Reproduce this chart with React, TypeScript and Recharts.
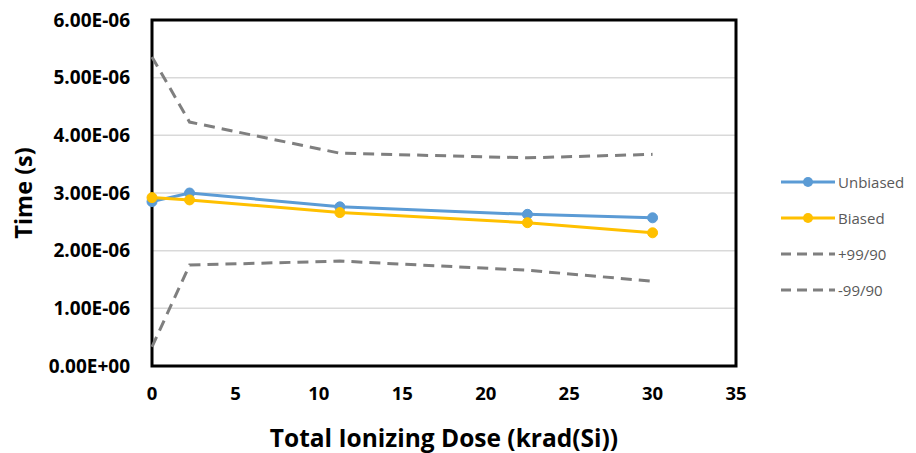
import React from 'react';
import {
  LineChart,
  Line,
  XAxis,
  YAxis,
  CartesianGrid,
  Legend,
  ReferenceArea,
} from 'recharts';

const dose = [0, 2.25, 11.26, 22.5, 30];
const unbiased = [2.85e-6, 3.0e-6, 2.76e-6, 2.63e-6, 2.57e-6];
const biased = [2.92e-6, 2.88e-6, 2.66e-6, 2.485e-6, 2.31e-6];
const upper = [5.36e-6, 4.23e-6, 3.69e-6, 3.61e-6, 3.67e-6];
const lower = [0.33e-6, 1.75e-6, 1.82e-6, 1.66e-6, 1.47e-6];

const xTicks = [0, 5, 10, 15, 20, 25, 30, 35];
const yTicks = [0, 1e-6, 2e-6, 3e-6, 4e-6, 5e-6, 6e-6];

const FONT = '"Open Sans", Lato, sans-serif';

const chartData = dose.map((d, i) => ({
  dose: d,
  unbiased: unbiased[i],
  biased: biased[i],
  upper: upper[i],
  lower: lower[i],
}));

const legendItems = [
  { name: 'Unbiased', color: '#5B9BD5', dashed: false },
  { name: 'Biased', color: '#FFC000', dashed: false },
  { name: '+99/90', color: '#7F7F7F', dashed: true },
  { name: '-99/90', color: '#7F7F7F', dashed: true },
];

const formatSci = (v: number) => {
  if (v === 0) return '0.00E+00';
  const exp = Math.floor(Math.log10(Math.abs(v)) + 1e-9);
  const mant = v / Math.pow(10, exp);
  const sign = exp < 0 ? '-' : '+';
  return `${mant.toFixed(2)}E${sign}${String(Math.abs(exp)).padStart(2, '0')}`;
};

function ChartLegend() {
  return (
    <div style={{ fontFamily: FONT, fontSize: 15, color: '#595959' }}>
      {legendItems.map((item) => (
        <div
          key={item.name}
          style={{ display: 'flex', alignItems: 'center', height: 36 }}
        >
          <svg width={58} height={14}>
            <line
              x1={2}
              y1={7}
              x2={56}
              y2={7}
              stroke={item.color}
              strokeWidth={3}
              strokeDasharray={item.dashed ? '10 6' : undefined}
            />
            {!item.dashed && <circle cx={29} cy={7} r={5} fill={item.color} />}
          </svg>
          <span style={{ marginLeft: 1 }}>{item.name}</span>
        </div>
      ))}
    </div>
  );
}

export default function App() {
  return (
    <div style={{ position: 'absolute', left: 0, top: 0, background: '#fff' }}>
      <LineChart
        width={916}
        height={453}
        data={chartData}
        margin={{ top: 20, right: 180, left: 0, bottom: 0 }}
      >
        <CartesianGrid stroke="#d9d9d9" strokeWidth={1.5} vertical={false} />
        <XAxis
          dataKey="dose"
          type="number"
          domain={[0, 35]}
          ticks={xTicks}
          height={87}
          tickLine={false}
          tickSize={0}
          tickMargin={21}
          axisLine={false}
          tick={{ fill: '#000', fontSize: 18.5, fontWeight: 700, fontFamily: FONT }}
          label={{
            value: 'Total Ionizing Dose (krad(Si))',
            position: 'insideBottom',
            offset: 6,
            fill: '#000',
            fontSize: 24.5,
            fontWeight: 700,
            fontFamily: FONT,
          }}
        />
        <YAxis
          type="number"
          domain={[0, 6e-6]}
          ticks={yTicks}
          width={152}
          tickLine={false}
          tickSize={0}
          tickMargin={22}
          axisLine={false}
          tickFormatter={formatSci}
          tick={{ fill: '#000', fontSize: 19, fontWeight: 700, fontFamily: FONT }}
          label={{
            content: (props: any) => {
              const vb = props.viewBox || {};
              const cy = (vb.y ?? 20) + (vb.height ?? 346) / 2;
              return (
                <text
                  x={23}
                  y={cy}
                  transform={`rotate(-90, 23, ${cy})`}
                  textAnchor="middle"
                  dominantBaseline="central"
                  fill="#000"
                  fontSize={23.5}
                  fontWeight={700}
                  fontFamily={FONT}
                >
                  Time (s)
                </text>
              );
            },
          }}
        />
        <ReferenceArea
          x1={0}
          x2={35}
          y1={0}
          y2={6e-6}
          fill="none"
          stroke="#000"
          strokeWidth={3}
          fillOpacity={0}
        />
        <Legend
          layout="horizontal"
          align="left"
          verticalAlign="top"
          content={() => <ChartLegend />}
          wrapperStyle={{ left: 779, top: 164, width: 136, height: 0 }}
        />
        <Line
          dataKey="unbiased"
          name="Unbiased"
          stroke="#5B9BD5"
          strokeWidth={3}
          dot={{ r: 5, fill: '#5B9BD5', stroke: '#5B9BD5', strokeWidth: 1 }}
          isAnimationActive={false}
        />
        <Line
          dataKey="biased"
          name="Biased"
          stroke="#FFC000"
          strokeWidth={3}
          dot={{ r: 5, fill: '#FFC000', stroke: '#FFC000', strokeWidth: 1 }}
          isAnimationActive={false}
        />
        <Line
          dataKey="upper"
          name="+99/90"
          stroke="#7F7F7F"
          strokeWidth={3}
          strokeDasharray="11 7"
          dot={false}
          isAnimationActive={false}
        />
        <Line
          dataKey="lower"
          name="-99/90"
          stroke="#7F7F7F"
          strokeWidth={3}
          strokeDasharray="11 7"
          dot={false}
          isAnimationActive={false}
        />
      </LineChart>
    </div>
  );
}
